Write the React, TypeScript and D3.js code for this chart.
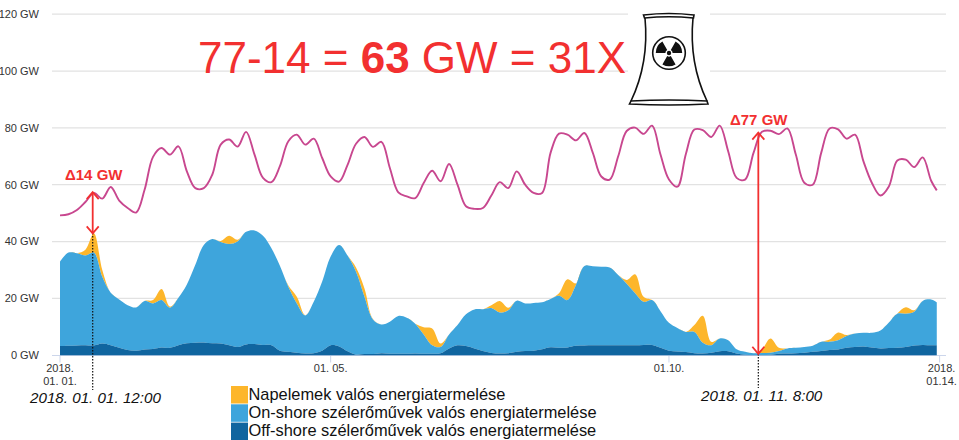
import React from "react";
import * as d3 from "d3";

const W = 959, H = 440;
const loadGW = [49.2,49.6,51.1,53.9,57.1,55.1,59.2,54.4,51.8,50.2,58.2,69.8,72.9,70.6,73.5,64.7,58.8,58.8,63.5,74.1,75.9,73.4,78.6,70.6,62.4,60.9,
66.5,75.3,77.6,74.1,76.2,69.4,62.9,61.1,67,74.4,76.8,73.3,75.1,65.9,57.3,55.9,55.3,60.6,64.9,61.2,67.3,60,52.4,51.5,51.8,56.2,
60.9,58.8,64.7,60,57.1,57.1,71.2,78,77.6,75.6,78.2,71.2,62.9,61.8,70,78.9,80.1,77.9,80.8,70.6,61.8,59.3,70.8,79.4,79.2,76.8,
80.8,71.8,62.4,61.8,71.2,78.6,79,77.8,79.8,70.6,60.7,60,71.2,79.8,79.5,76.2,77.6,68.2,60.6,56.2,59.4,68.5,68.8,66.2,69.6,61.4,58];
const offShore = [3.2,3.3,3.4,3.5,3.4,4.1,3.5,2.6,1.8,1.6,2,2.2,2.7,2.6,3.5,4.2,4.4,4.5,4.2,4.1,3.5,2.9,3.8,3.9,3.6,3.5,
1.6,1.2,.9,.6,.7,1.6,3.5,3.1,1.4,.2,.4,.4,.7,.5,.5,.5,.6,.5,.5,.7,2.4,3.5,3.2,2.4,1.5,.8,
.6,.7,1.2,1.5,1.6,2.1,2.8,2.6,2.7,3.3,3.4,3.5,3.5,3.5,3.5,3.5,3.5,3.6,3.6,2.6,1.6,1.3,1.1,.7,.6,.9,
1.4,1.4,.6,.2,.1,.1,.2,.5,.6,.7,.9,1.2,1.5,1.8,2,2.6,2.9,3.1,2.7,2.4,2.5,2.6,2.9,3.4,3.6,3.5,3.5];
const onShore = [29.7,32.8,32.5,31.6,32.7,23.5,18.5,17,15.8,15.2,17.1,16,16.7,14.1,16.7,20.7,27.4,34.3,36.7,35.7,35.6,37.1,39.6,40,38.4,34.1,
29.9,22.9,17.3,13.4,18.1,24.3,31.2,35.7,33.7,29.2,20.2,12.2,10.1,11.3,13.3,12.7,10.5,6.8,3,2.2,4.9,7.1,11.2,13.7,14.7,15.8,
14.4,15.1,18,16.7,16.8,16.5,17,18.3,16.7,21.4,28,27.8,27.6,27.4,24.7,21.6,18.3,15.2,15.8,12.9,9.8,8.3,7.1,7.5,3.8,2.6,
4.5,3.9,1.5,1,.6,.7,.7,1,1.8,1.9,2,2.1,3.2,2.9,3.3,4.2,4.7,4.8,5.2,6.3,9,12,11.7,11.9,15.5,16.1,15.1];
const solar = [0,0,0,2,6.8,2.4,0,0,0,0,0,1.2,3.9,.4,0,0,0,0,0,.4,2.9,.6,0,0,0,0,
0,.4,2.4,.1,0,0,0,0,0,1.5,2.9,.1,0,0,0,0,0,2.5,5.9,1.2,0,0,0,0,0,1,
4.1,.9,0,0,0,0,0,.9,7.3,.6,0,0,0,0,0,1.4,6.7,1.8,0,0,0,0,0,2.4,9.5,1.2,
0,0,0,0,0,1.3,5,1.1,0,0,0,0,0,.8,2.7,.3,0,0,0,0,0,.1,2.3,.5,0,0,0];
const hours = loadGW.map((_, i) => (i === loadGW.length - 1 ? 311 : i * 3));

const yTicks = [0, 20, 40, 60, 80, 100, 120];
const xTicks = [
  { hour: 0, lines: ["2018.", "01. 01."] },
  { hour: 96, lines: ["01. 05."] },
  { hour: 216, lines: ["01.10."] },
  { hour: 312, lines: ["2018.", "01.14."] },
];
const legendItems = [
  { label: "Napelemek valós energiatermelése", color: "#fdb62b" },
  { label: "On-shore szélerőművek valós energiatermelése", color: "#3ea5dc" },
  { label: "Off-shore szélerőművek valós energiatermelése", color: "#10659f" },
];
const RED = "#f23030";
const FONT = "'Liberation Sans', Arial, sans-serif";

const x = d3.scaleLinear().domain([0, 312]).range([60, 939.6]);
const y = d3.scaleLinear().domain([0, 120]).range([355.2, 14.2]);

const rows = hours.map((h, i) => ({ h, off: offShore[i], on: onShore[i], sol: solar[i] }));
const stacked = d3.stack<any>().keys(["off", "on", "sol"])(rows);
const area = d3.area<any>()
  .x((d) => x(d.data.h))
  .y0((d) => y(d[0]))
  .y1((d) => y(d[1]))
  .curve(d3.curveCatmullRom);
const line = d3.line<number>()
  .x((_, i) => x(hours[i]))
  .y((d) => y(d))
  .curve(d3.curveCatmullRom);
const colors = ["#10659f", "#3ea5dc", "#fdb62b"];

function Arrow({ px, y1, y2 }: { px: number; y1: number; y2: number }) {
  const s = 6, t = 7;
  return (
    <g stroke={RED} strokeWidth={1.8} fill="none">
      <line x1={px} x2={px} y1={y1} y2={y2} />
      <path d={`M${px - s},${y1 + t}L${px},${y1}L${px + s},${y1 + t}`} />
      <path d={`M${px - s},${y2 - t}L${px},${y2}L${px + s},${y2 - t}`} />
    </g>
  );
}

const bladeCentres = [-60, 60, 180];

function Tower() {
  const cx = 669, cy = 53;
  const sector = d3.arc<any>().innerRadius(3.6).outerRadius(13.2);
  const rad = (a: number) => (a * Math.PI) / 180;
  return (
    <g>
      <rect x={628} y={8} width={82} height={102} fill="#fff" />
      <g fill="none" stroke="#111" strokeWidth={1.6}>
        <path d="M645,18 C648,50 642,78 631,101" />
        <path d="M693,18 C690,50 696,78 707,101" />
        <path d="M643.5,15 Q669,12 694,15 L693.5,18 Q669,15.5 644.5,18 Z" />
        <path d="M631,101 Q669,99 707,101 L708,104 Q669,106 629.5,104 Z" />
        <circle cx={cx} cy={cy} r={16.3} />
      </g>
      <g transform={`translate(${cx},${cy})`} fill="#111">
        {bladeCentres.map((a) => (
          <path key={a} d={sector({ startAngle: rad(a - 30), endAngle: rad(a + 30) }) as string} />
        ))}
        <circle r={2.2} />
      </g>
    </g>
  );
}

export default function App() {
  const arrow1Hour = 11.6, arrow2Hour = 247.7;
  return (
    <svg width={W} height={H} viewBox={`0 0 ${W} ${H}`} style={{ position: "absolute", left: 0, top: 0, background: "#fff" }} fontFamily={FONT}>
      {yTicks.map((t) => (
        <g key={t}>
          {t > 0 && <line x1={52} x2={946} y1={y(t)} y2={y(t)} stroke="#e2e2e2" strokeWidth={1.2} />}
          <text x={39} y={y(t) + 3.8} textAnchor="end" fontSize={11} fill="#333">{t} GW</text>
        </g>
      ))}
      <line x1={52} x2={946} y1={355.5} y2={355.5} stroke="#ccd6eb" />
      {xTicks.map((t) => (
        <g key={t.hour}>
          <line x1={x(t.hour)} x2={x(t.hour)} y1={355.5} y2={362.5} stroke="#ccd6eb" />
          {t.lines.map((l, i) => (
            <text key={i} x={x(t.hour) + (t.hour === 312 ? 2 : 0)} y={372 + i * 12.5} textAnchor="middle" fontSize={11} fill="#333">{l}</text>
          ))}
        </g>
      ))}
      {[2, 1, 0].map((i) => (
        <path key={i} d={area(stacked[i] as any) as string} fill={colors[i]} />
      ))}
      <path d={line(loadGW) as string} fill="none" stroke="#c8478f" strokeWidth={1.9} />

      <line x1={x(arrow1Hour)} x2={x(arrow1Hour)} y1={y(43)} y2={390} stroke="#111" strokeWidth={1.2} strokeDasharray="1.5 1.5" />
      <line x1={x(arrow2Hour)} x2={x(arrow2Hour)} y1={354} y2={388} stroke="#111" strokeWidth={1.2} strokeDasharray="1.5 1.5" />
      <Arrow px={x(arrow1Hour)} y1={y(57.4)} y2={y(42.9)} />
      <Arrow px={x(arrow2Hour)} y1={y(78.3)} y2={y(0.5)} />

      <text x={65} y={180} fontSize={15} fontWeight="bold" fill={RED}>Δ14 GW</text>
      <text x={730} y={125} fontSize={15} fontWeight="bold" fill={RED}>Δ77 GW</text>

      <text x={198} y={73} fontSize={44} fill={RED}>
        77-14 = <tspan fontWeight="bold">63</tspan> GW = 31X
      </text>
      <Tower />

      <text x={30} y={403} fontSize={15.2} fontStyle="italic" fill="#111">2018. 01. 01. 12:00</text>
      <text x={701} y={401} fontSize={15.2} fontStyle="italic" fill="#111">2018. 01. 11. 8:00</text>

      {legendItems.map((it, i) => (
        <g key={it.label}>
          <rect x={231} y={386 + i * 18.3} width={17} height={17.5} fill={it.color} />
          <text x={248.5} y={400 + i * 18.2} fontSize={16.4} fill="#111">{it.label}</text>
        </g>
      ))}
    </svg>
  );
}
